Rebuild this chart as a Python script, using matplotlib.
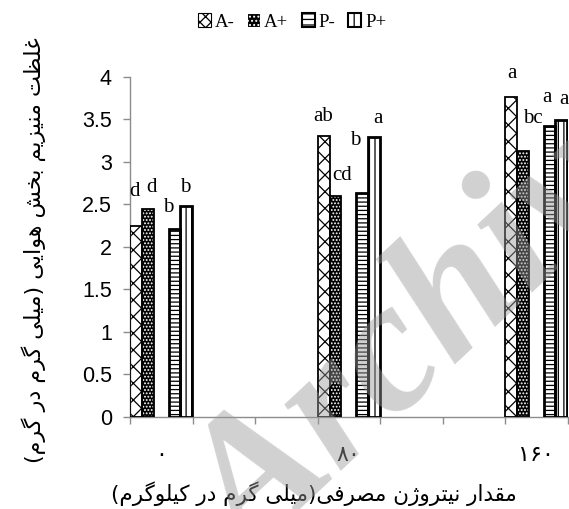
import matplotlib
matplotlib.use("Agg")
import matplotlib.pyplot as plt
from matplotlib.patches import Patch
import numpy as np

# ---------------- data ----------------
group_labels = ["۰", "۸۰", "۱۶۰"]          # N applied (mg/kg)
group_slots = [0, 3, 6]                      # category slots on the axis
series_names = ["A-", "A+", "P-", "P+"]
a_minus = [2.24, 3.30, 3.76]
a_plus = [2.45, 2.60, 3.13]
p_minus = [2.21, 2.63, 3.42]
p_plus = [2.48, 3.29, 3.49]
letters_a_minus = ["d", "ab", "a"]
letters_a_plus = ["d", "cd", "bc"]
letters_p_minus = ["b", "b", "a"]
letters_p_plus = ["b", "a", "a"]
y_ticks = [0, 0.5, 1, 1.5, 2, 2.5, 3, 3.5, 4]
x_title = "مقدار نیتروژن مصرفی(میلی گرم در کیلوگرم)"
y_title = "غلظت منیزیم بخش هوایی (میلی گرم در گرم)"

# ---------------- simple Persian shaping (no raqm available) ----------------
FORMS = {
    'ا': ('\ufe8d', '\ufe8e', None, None),
    'ب': ('\ufe8f', '\ufe90', '\ufe91', '\ufe92'),
    'ت': ('\ufe95', '\ufe96', '\ufe97', '\ufe98'),
    'خ': ('\ufea5', '\ufea6', '\ufea7', '\ufea8'),
    'د': ('\ufea9', '\ufeaa', None, None),
    'ر': ('\ufead', '\ufeae', None, None),
    'ز': ('\ufeaf', '\ufeb0', None, None),
    'ژ': ('\ufb8a', '\ufb8b', None, None),
    'ش': ('\ufeb5', '\ufeb6', '\ufeb7', '\ufeb8'),
    'ص': ('\ufeb9', '\ufeba', '\ufebb', '\ufebc'),
    'ظ': ('\ufec5', '\ufec6', '\ufec7', '\ufec8'),
    'غ': ('\ufecd', '\ufece', '\ufecf', '\ufed0'),
    'ف': ('\ufed1', '\ufed2', '\ufed3', '\ufed4'),
    'ق': ('\ufed5', '\ufed6', '\ufed7', '\ufed8'),
    'ک': ('\ufb8e', '\ufb8f', '\ufb90', '\ufb91'),
    'گ': ('\ufb92', '\ufb93', '\ufb94', '\ufb95'),
    'ل': ('\ufedd', '\ufede', '\ufedf', '\ufee0'),
    'م': ('\ufee1', '\ufee2', '\ufee3', '\ufee4'),
    'ن': ('\ufee5', '\ufee6', '\ufee7', '\ufee8'),
    'ه': ('\ufee9', '\ufeea', '\ufeeb', '\ufeec'),
    'و': ('\ufeed', '\ufeee', None, None),
    'ی': ('\ufbfc', '\ufbfd', '\ufbfe', '\ufbff'),
}


def shape_fa(text):
    chars = list(text)
    out = []
    for i, c in enumerate(chars):
        if c not in FORMS:
            out.append(c)
            continue
        p = chars[i - 1] if i > 0 else None
        n = chars[i + 1] if i + 1 < len(chars) else None
        jp = p in FORMS and FORMS[p][2] is not None
        jn = n in FORMS and FORMS[c][2] is not None
        iso, fin, ini, med = FORMS[c]
        if jp and jn:
            out.append(med)
        elif jp:
            out.append(fin)
        elif jn:
            out.append(ini)
        else:
            out.append(iso)
    s = "".join(reversed(out))
    return s.translate(str.maketrans("()", ")("))


# ---------------- layout / style ----------------
W, H = 569, 509
plt.rcParams['hatch.linewidth'] = 0.9
fig = plt.figure(figsize=(W / 100, H / 100), dpi=100)
ax = fig.add_axes([130 / W, (H - 417) / H, 437.5 / W, (417 - 76.7) / H])

slot_offset = [0.10, 0.29, 0.71, 0.90]
bar_w = 0.185
# label nudges (dx, dy in data units) relative to each bar top
nudges = [
    [(-0.02, 0.36), (-0.01, 0.18), (0.01, 0.22)],
    [(0.05, 0.19), (0.10, 0.19), (0.16, 0.32)],
    [(-0.10, 0.20), (-0.11, 0.57), (-0.04, 0.28)],
    [(-0.02, 0.17), (0.07, 0.17), (0.05, 0.19)],
]

series_vals = [a_minus, a_plus, p_minus, p_plus]
series_letters = [letters_a_minus, letters_a_plus, letters_p_minus, letters_p_plus]
gx = np.array(group_slots, dtype=float)
edge_lw = 1.3

for k, (vals, name) in enumerate(zip(series_vals, series_names)):
    xs = gx + slot_offset[k]
    if name == "A-":
        ax.bar(xs, vals, bar_w, color='white', edgecolor='black', hatch='xx', lw=0, zorder=2)
    elif name == "A+":
        ax.bar(xs, vals, bar_w, color='black', edgecolor='white', hatch='.....', lw=0, zorder=2)
    elif name == "P-":
        ax.bar(xs, vals, bar_w, color='white', edgecolor='black', hatch='----', lw=0, zorder=2)
    else:
        ax.bar(xs, vals, bar_w, color='white', edgecolor='black', hatch='|||', lw=0, zorder=2)
    ax.bar(xs, vals, bar_w, fill=False, edgecolor='black', lw=edge_lw if name in ("A-", "A+") else 2.0, zorder=3)
    for j, (x, v, lab) in enumerate(zip(xs, vals, series_letters[k])):
        dx, dy = nudges[k][j]
        ax.text(x + dx, v + dy, lab, ha='center', va='baseline', fontsize=15,
                family='Liberation Serif', color='black', clip_on=False)

ax.set_xlim(0, 7)
ax.set_ylim(0, 4)
for s in ('top', 'right'):
    ax.spines[s].set_visible(False)
for s in ('left', 'bottom'):
    ax.spines[s].set_color('#8c8c8c')
    ax.spines[s].set_linewidth(1.0)

ax.set_yticks(y_ticks)
ax.set_yticklabels([f"{t:g}" for t in y_ticks])
ax.tick_params(axis='y', direction='out', length=5, width=1, color='#8c8c8c', pad=8,
               labelsize=15.5, labelcolor='black')
for t in ax.get_yticklabels():
    t.set_family('Liberation Sans')

ax.set_xticks(np.arange(0, 8))
ax.set_xticklabels([])
ax.tick_params(axis='x', which='major', direction='out', length=5, width=1, color='#8c8c8c')
ax.set_xticks(gx + 0.5, minor=True)
ax.set_xticklabels(group_labels, minor=True, family='DejaVu Sans', fontsize=16)
ax.tick_params(axis='x', which='minor', length=0, pad=20)

fig.text(314 / W, 1 - 494 / H, shape_fa(x_title), ha='center', va='center',
         fontsize=15.5, family='DejaVu Sans')
fig.text(34 / W, 1 - 250 / H, shape_fa(y_title), ha='center', va='center',
         rotation=90, fontsize=16, family='DejaVu Sans')

# legend
handles = [
    Patch(facecolor='white', edgecolor='black', hatch='xxx', lw=0.8),
    Patch(facecolor='black', edgecolor='white', hatch='....', lw=0.8),
    Patch(facecolor='white', edgecolor='black', hatch='---', lw=1.5),
    Patch(facecolor='white', edgecolor='black', hatch='||', lw=1.5),
]
fig.legend(handles, series_names, loc='center', bbox_to_anchor=(292 / W, 1 - 22 / H),
           ncol=4, frameon=False, handlelength=0.7, handleheight=0.7,
           handletextpad=0.2, columnspacing=0.7, prop={'family': 'Liberation Serif', 'size': 13.5})

# watermark
fig.text(250 / W, 1 - 565 / H, "Archive", rotation=43, rotation_mode='anchor',
         ha='left', va='baseline', fontsize=135, fontweight='bold', style='italic',
         family='Liberation Serif', color='#9a9a9a', alpha=0.45, zorder=10)

fig.savefig("out.png", dpi=100)
